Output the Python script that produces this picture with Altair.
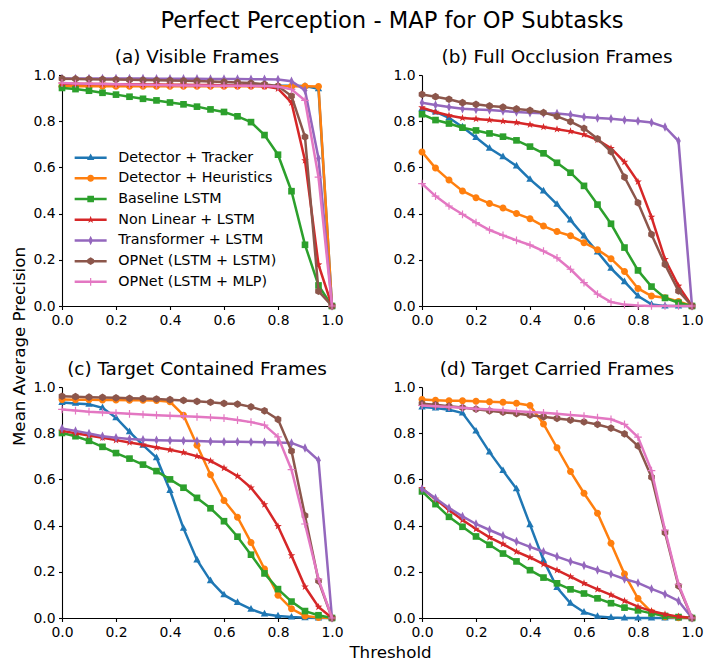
import altair as alt
import pandas as pd

THRESHOLDS = [0.0, 0.05, 0.1, 0.15, 0.2, 0.25, 0.3, 0.35, 0.4, 0.45, 0.5,
              0.55, 0.6, 0.65, 0.7, 0.75, 0.8, 0.85, 0.9, 0.95, 1.0]

SERIES = ["Detector + Tracker", "Detector + Heuristics", "Baseline LSTM",
          "Non Linear + LSTM", "Transformer + LSTM", "OPNet (LSTM + LSTM)",
          "OPNet (LSTM + MLP)"]

PANEL_TITLES = ["(a) Visible Frames", "(b) Full Occlusion Frames",
                "(c) Target Contained Frames", "(d) Target Carried Frames"]

# (a) Visible Frames
A_TRACKER = [0.958, 0.958, 0.958, 0.957, 0.957, 0.957, 0.957, 0.956, 0.956, 0.956, 0.956, 0.955, 0.955, 0.955, 0.955, 0.954, 0.954, 0.953, 0.952, 0.940, 0.0]
A_HEUR = [0.951, 0.951, 0.951, 0.951, 0.951, 0.951, 0.951, 0.951, 0.951, 0.951, 0.951, 0.951, 0.951, 0.951, 0.951, 0.951, 0.951, 0.951, 0.951, 0.950, 0.0]
A_BASE = [0.944, 0.939, 0.932, 0.923, 0.915, 0.906, 0.897, 0.890, 0.881, 0.873, 0.863, 0.851, 0.840, 0.821, 0.796, 0.740, 0.655, 0.497, 0.265, 0.089, 0.0]
A_NONLIN = [0.962, 0.962, 0.961, 0.961, 0.960, 0.960, 0.959, 0.959, 0.958, 0.958, 0.957, 0.957, 0.956, 0.955, 0.954, 0.951, 0.941, 0.880, 0.630, 0.179, 0.0]
A_TRANS = [0.985, 0.985, 0.985, 0.985, 0.985, 0.985, 0.985, 0.984, 0.984, 0.984, 0.984, 0.983, 0.983, 0.983, 0.982, 0.982, 0.981, 0.973, 0.934, 0.640, 0.0]
A_OPLSTM = [0.984, 0.983, 0.982, 0.981, 0.980, 0.979, 0.978, 0.977, 0.976, 0.975, 0.974, 0.972, 0.970, 0.968, 0.965, 0.960, 0.952, 0.909, 0.732, 0.064, 0.0]
A_OPMLP = [0.965, 0.963, 0.962, 0.961, 0.960, 0.959, 0.958, 0.957, 0.956, 0.955, 0.955, 0.954, 0.954, 0.953, 0.953, 0.952, 0.950, 0.938, 0.890, 0.558, 0.0]

# (b) Full Occlusion Frames
B_TRACKER = [0.854, 0.840, 0.815, 0.775, 0.729, 0.683, 0.646, 0.606, 0.548, 0.498, 0.440, 0.372, 0.303, 0.234, 0.163, 0.105, 0.043, 0.007, 0.0, 0.0, 0.0]
B_HEUR = [0.667, 0.597, 0.545, 0.498, 0.469, 0.444, 0.424, 0.400, 0.378, 0.346, 0.322, 0.304, 0.274, 0.244, 0.205, 0.149, 0.076, 0.043, 0.036, 0.020, 0.0]
B_BASE = [0.830, 0.805, 0.790, 0.772, 0.760, 0.747, 0.733, 0.717, 0.690, 0.661, 0.620, 0.577, 0.520, 0.439, 0.356, 0.253, 0.154, 0.084, 0.035, 0.014, 0.0]
B_NONLIN = [0.859, 0.840, 0.825, 0.814, 0.810, 0.805, 0.800, 0.794, 0.785, 0.775, 0.765, 0.756, 0.742, 0.719, 0.683, 0.623, 0.538, 0.385, 0.202, 0.087, 0.0]
B_TRANS = [0.880, 0.870, 0.861, 0.854, 0.851, 0.848, 0.844, 0.840, 0.837, 0.834, 0.833, 0.828, 0.818, 0.814, 0.811, 0.805, 0.801, 0.794, 0.775, 0.714, 0.0]
B_OPLSTM = [0.916, 0.906, 0.895, 0.880, 0.873, 0.866, 0.861, 0.853, 0.847, 0.837, 0.821, 0.798, 0.769, 0.724, 0.668, 0.558, 0.447, 0.310, 0.180, 0.065, 0.0]
B_OPMLP = [0.530, 0.476, 0.433, 0.397, 0.361, 0.329, 0.306, 0.284, 0.264, 0.238, 0.208, 0.159, 0.101, 0.051, 0.017, 0.006, 0.002, 0.0, 0.0, 0.0, 0.0]

# (c) Target Contained Frames
C_TRACKER = [0.933, 0.929, 0.925, 0.910, 0.867, 0.806, 0.748, 0.694, 0.552, 0.388, 0.251, 0.161, 0.100, 0.067, 0.038, 0.017, 0.009, 0.004, 0.001, 0.0, 0.0]
C_HEUR = [0.946, 0.945, 0.945, 0.944, 0.944, 0.943, 0.943, 0.942, 0.936, 0.878, 0.748, 0.620, 0.509, 0.436, 0.327, 0.212, 0.099, 0.040, 0.009, 0.002, 0.0]
C_BASE = [0.801, 0.787, 0.767, 0.741, 0.714, 0.690, 0.664, 0.636, 0.600, 0.564, 0.520, 0.475, 0.419, 0.352, 0.274, 0.193, 0.125, 0.071, 0.030, 0.012, 0.0]
C_NONLIN = [0.810, 0.800, 0.790, 0.780, 0.770, 0.760, 0.750, 0.738, 0.728, 0.716, 0.700, 0.680, 0.649, 0.614, 0.564, 0.491, 0.397, 0.270, 0.135, 0.048, 0.0]
C_TRANS = [0.820, 0.810, 0.799, 0.787, 0.780, 0.775, 0.772, 0.770, 0.768, 0.767, 0.766, 0.764, 0.763, 0.763, 0.762, 0.761, 0.760, 0.758, 0.736, 0.683, 0.0]
C_OPLSTM = [0.960, 0.958, 0.956, 0.955, 0.953, 0.951, 0.950, 0.948, 0.945, 0.942, 0.938, 0.934, 0.929, 0.926, 0.914, 0.897, 0.860, 0.723, 0.443, 0.161, 0.0]
C_OPMLP = [0.903, 0.898, 0.893, 0.890, 0.887, 0.884, 0.881, 0.878, 0.876, 0.873, 0.871, 0.868, 0.865, 0.857, 0.848, 0.835, 0.784, 0.642, 0.407, 0.168, 0.0]

# (d) Target Carried Frames
D_TRACKER = [0.913, 0.909, 0.902, 0.887, 0.809, 0.718, 0.638, 0.559, 0.404, 0.250, 0.132, 0.064, 0.025, 0.007, 0.002, 0.0, 0.0, 0.0, 0.0, 0.0, 0.0]
D_HEUR = [0.946, 0.943, 0.941, 0.940, 0.938, 0.936, 0.934, 0.930, 0.920, 0.840, 0.737, 0.634, 0.540, 0.454, 0.324, 0.190, 0.084, 0.025, 0.005, 0.001, 0.0]
D_BASE = [0.548, 0.493, 0.438, 0.395, 0.353, 0.317, 0.279, 0.245, 0.207, 0.175, 0.150, 0.124, 0.106, 0.085, 0.064, 0.045, 0.033, 0.020, 0.009, 0.004, 0.0]
D_NONLIN = [0.561, 0.515, 0.467, 0.424, 0.385, 0.349, 0.320, 0.287, 0.262, 0.233, 0.207, 0.179, 0.150, 0.124, 0.100, 0.074, 0.049, 0.030, 0.016, 0.006, 0.0]
D_TRANS = [0.559, 0.518, 0.476, 0.440, 0.407, 0.381, 0.356, 0.331, 0.308, 0.287, 0.266, 0.245, 0.227, 0.208, 0.190, 0.169, 0.152, 0.126, 0.103, 0.074, 0.0]
D_OPLSTM = [0.928, 0.923, 0.917, 0.911, 0.904, 0.897, 0.891, 0.885, 0.878, 0.871, 0.864, 0.857, 0.849, 0.838, 0.822, 0.797, 0.745, 0.610, 0.370, 0.139, 0.0]
D_OPMLP = [0.920, 0.917, 0.913, 0.910, 0.906, 0.903, 0.899, 0.895, 0.892, 0.888, 0.884, 0.879, 0.874, 0.867, 0.860, 0.838, 0.783, 0.638, 0.380, 0.146, 0.0]

PANEL_DATA = [
    [A_TRACKER, A_HEUR, A_BASE, A_NONLIN, A_TRANS, A_OPLSTM, A_OPMLP],
    [B_TRACKER, B_HEUR, B_BASE, B_NONLIN, B_TRANS, B_OPLSTM, B_OPMLP],
    [C_TRACKER, C_HEUR, C_BASE, C_NONLIN, C_TRANS, C_OPLSTM, C_OPMLP],
    [D_TRACKER, D_HEUR, D_BASE, D_NONLIN, D_TRANS, D_OPLSTM, D_OPMLP],
]

COLORS = ["#1f77b4", "#ff7f0e", "#2ca02c", "#d62728", "#9467bd", "#8c564b", "#e377c2"]

# marker paths (unit = sqrt(size)/2 px)
MARKERS = [
    "M0,-1.2L1.05,0.7L-1.05,0.7Z",
    "M1,0A1,1,0,1,1,-1,0A1,1,0,1,1,1,0Z",
    "M-0.95,-0.95H0.95V0.95H-0.95Z",
    "M0,-1.15L0.27,-0.37L1.09,-0.36L0.44,0.14L0.68,0.93L0,0.45L-0.68,0.93L-0.44,0.14L-1.09,-0.36L-0.27,-0.37Z",
    "M0,-1.35L0.65,0L0,1.35L-0.65,0Z",
    "M0,-1.1L0.95,-0.55L0.95,0.55L0,1.1L-0.95,0.55L-0.95,-0.55Z",
    "M-0.17,-1.1H0.17V-0.17H1.1V0.17H0.17V1.1H-0.17V0.17H-1.1V-0.17H-0.17Z",
]
LEG_LINE = "M-4.57,-0.36H4.57V0.36H-4.57Z"
LEG_SHAPES = [LEG_LINE + m for m in MARKERS]

FONT = "DejaVu Sans"
TICKS = [0, 0.2, 0.4, 0.6, 0.8, 1.0]

rows = []
for p, series_lists in enumerate(PANEL_DATA):
    for name, vals in zip(SERIES, series_lists):
        for t, v in zip(THRESHOLDS, vals):
            rows.append({"panel": p, "series": name, "threshold": t, "map": v})
df = pd.DataFrame(rows)

W, H = 270, 231


def make_panel(p):
    if p == 2:
        xaxis = alt.Axis(values=TICKS, format=".1f",
                         title="Threshold", titleX=328, titleY=34,
                         titleAlign="center", titleBaseline="middle")
    else:
        xaxis = alt.Axis(values=TICKS, format=".1f", title=None)
    if p == 0:
        yaxis = alt.Axis(values=TICKS, format=".1f",
                         title="Mean Average Precision", titleX=-43, titleY=271,
                         titleAngle=-90, titleAlign="center", titleBaseline="middle")
    else:
        yaxis = alt.Axis(values=TICKS, format=".1f", title=None)
    x = alt.X("threshold:Q", scale=alt.Scale(domain=[0, 1], nice=False), axis=xaxis)
    y = alt.Y("map:Q", scale=alt.Scale(domain=[0, 1], nice=False), axis=yaxis)
    layers = []
    for name, color, marker in zip(SERIES, COLORS, MARKERS):
        sub = alt.Chart(df).transform_filter(
            (alt.datum.panel == p) & (alt.datum.series == name))
        layers.append(sub.mark_line(color=color, strokeWidth=2.5).encode(x=x, y=y))
        layers.append(sub.mark_point(shape=marker, filled=True, color=color,
                                     size=49, opacity=1).encode(x=x, y=y))
    if p == 0:
        legend = alt.Legend(orient="none", legendX=21.5, legendY=75.5, title=None,
                            labelFont=FONT, labelFontSize=14.3, labelColor="black",
                            symbolSize=49, symbolStrokeWidth=0, labelOffset=20.5,
                            rowPadding=5.7, symbolOpacity=1)
        leg = alt.Chart(df).transform_filter("false").mark_point(
            filled=True, opacity=1).encode(
            x=x, y=y,
            color=alt.Color("series:N", scale=alt.Scale(domain=SERIES, range=COLORS),
                            legend=legend),
            shape=alt.Shape("series:N", scale=alt.Scale(domain=SERIES, range=LEG_SHAPES),
                            legend=legend),
        )
        layers.append(leg)
    return alt.layer(*layers).properties(
        width=W, height=H,
        title=alt.TitleParams(PANEL_TITLES[p], fontSize=18.4, font=FONT,
                              fontWeight="normal", anchor="middle", offset=2,
                              color="black"))


chart = alt.concat(*[make_panel(p) for p in range(4)], columns=2,
                   spacing={"row": 81, "column": 90}, bounds="flush").properties(
    title=alt.TitleParams("Perfect Perception - MAP for OP Subtasks", fontSize=22.6,
                          font=FONT, fontWeight="normal", anchor="middle",
                          color="black", offset=15, dx=35),
    padding={"left": 3, "top": 2, "right": 0, "bottom": 0},
).configure(font=FONT).configure_view(stroke=None).configure_axis(
    labelFont=FONT, labelFontSize=13.9, labelColor="black", labelFlush=False,
    titleFont=FONT, titleFontSize=16.7, titleColor="black", titleFontWeight="normal",
    domainColor="black", domainWidth=1.1, tickColor="black", tickWidth=1.1,
    tickSize=3.5, labelPadding=3.5, grid=False,
)

chart.save("out.html", embed_options={"renderer": "svg", "actions": False})
